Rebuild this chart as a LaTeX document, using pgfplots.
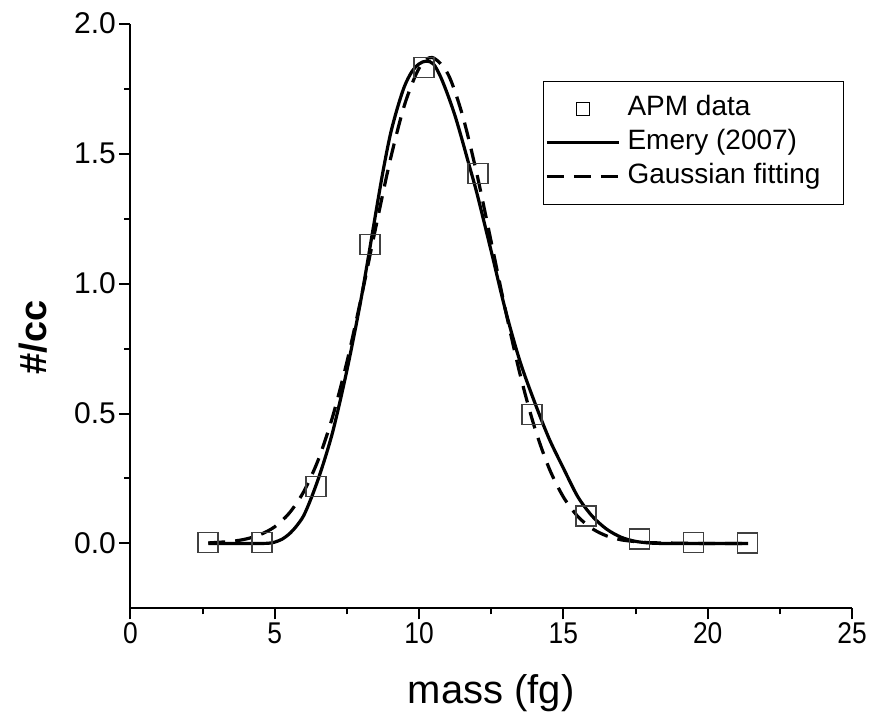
\documentclass[border=0pt]{standalone}
\usepackage{pgfplots}
\pgfplotsset{compat=1.18}
\usepackage{fontspec}
\setmainfont{Liberation Sans}
\begin{document}
\begin{tikzpicture}
\useasboundingbox (-130.4pt,-110pt) rectangle (745pt,608.7pt);
\begin{axis}[
  at={(0pt,0pt)}, anchor=south west,
  scale only axis, width=722pt, height=585pt,
  xmin=0, xmax=25, ymin=-0.25, ymax=2.0,
  axis lines=left, axis line style={line width=2pt, -},
  xtick={0,5,10,15,20,25}, ytick={0,0.5,1,1.5,2},
  xticklabels={0,5,10,15,20,25},
  yticklabels={0.0,0.5,1.0,1.5,2.0},
  minor x tick num=1, minor y tick num=1,
  tick align=outside, major tick length=11pt, minor tick length=6pt,
  every tick/.style={black, line width=2pt},
  tick label style={font=\fontsize{30}{30}\selectfont},
  xticklabel style={xscale=0.88},
  xlabel={mass (fg)}, ylabel={\bfseries\#/cc},
  xlabel style={font=\fontsize{40}{40}\selectfont, at={(axis description cs:0.5,-0.145)}, anchor=center},
  ylabel style={font=\fontsize{38}{38}\selectfont, at={(axis description cs:-0.135,0.463)}, anchor=center},
  legend style={at={(axis description cs:0.5715,0.9027)}, anchor=north west, draw=black, line width=1.2pt,
    inner xsep=2pt, inner ysep=13.5pt, font=\fontsize{28}{28}\selectfont, row sep=6pt, column sep=6pt,
    nodes={inner sep=1pt, text height=20pt, text depth=6pt}},
  legend cell align=left,
  legend image code/.code={\draw[#1] (0pt,0pt) -- (72pt,0pt);},
]
\addplot[only marks, mark=square, mark size=10pt, mark options={draw=black!75, line width=1.3pt, fill=none},
  legend image code/.code={\draw[black, line width=1pt] (29.5pt,-6.5pt) rectangle (42.5pt,6.5pt);}]
coordinates {(2.69,0.004) (4.56,0.004) (6.43,0.219) (8.30,1.149) (10.17,1.831) (12.04,1.423) (13.91,0.497) (15.78,0.106) (17.65,0.017) (19.52,0.003) (21.39,0.002)};
\addlegendentry{APM data}
\addplot[black, line width=3.2pt, smooth] coordinates {
(2.7,0) (3.5,0) (4.5,0) (4.8,0.001) (5.0,0.005) (5.25,0.016) (5.5,0.036) (5.75,0.066) (6.0,0.106) (6.25,0.17) (6.5,0.245) (6.75,0.33) (7.0,0.425) (7.25,0.54) (7.5,0.665) (7.75,0.80) (8.0,0.945) (8.25,1.105) (8.5,1.27) (8.75,1.43) (9.0,1.57) (9.25,1.675) (9.5,1.76) (9.75,1.815) (10.0,1.845) (10.25,1.856) (10.5,1.845) (10.75,1.795) (11.0,1.725) (11.25,1.645) (11.5,1.55) (11.75,1.45) (12.0,1.35) (12.5,1.125) (13.0,0.895) (13.5,0.70) (14.0,0.545) (14.5,0.405) (15.0,0.29) (15.5,0.18) (16.0,0.105) (16.5,0.055) (17.0,0.024) (17.5,0.008) (18.0,0.002) (18.5,0) (21.4,0)};
\addlegendentry{Emery (2007)}
\addplot[black, line width=3.2pt, dash pattern=on 17pt off 10pt, smooth] coordinates {
(2.7,0.002) (3.5,0.008) (4.0,0.017) (4.5,0.034) (5.0,0.064) (5.5,0.116) (6.0,0.198) (6.5,0.319) (7.0,0.485) (7.5,0.697) (8.0,0.947) (8.5,1.215) (9.0,1.474) (9.5,1.688) (10.0,1.828) (10.45,1.87) (11.0,1.807) (11.5,1.650) (12.0,1.424) (12.5,1.161) (13.0,0.895) (13.5,0.651) (14.0,0.448) (14.5,0.291) (15.0,0.179) (15.5,0.104) (16.0,0.057) (16.5,0.029) (17.0,0.014) (17.5,0.007) (18.0,0.003) (19.0,0.001) (20.0,0) (21.4,0)};
\addlegendentry{Gaussian fitting\hspace*{20pt}}
\end{axis}
\end{tikzpicture}
\end{document}
